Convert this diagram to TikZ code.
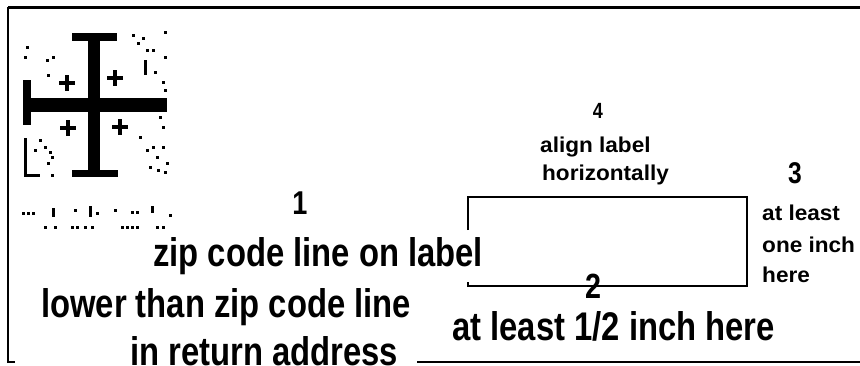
\documentclass[tikz,border=0pt]{standalone}
\usepackage{fontspec}
\setmainfont{Liberation Sans}
\newfontfamily\nfont{Liberation Sans}[FakeStretch=0.82]
\newfontfamily\wfont{Liberation Sans}[FakeStretch=1.05]
\begin{document}
\begin{tikzpicture}[x=1pt,y=-1pt,
  bigtxt/.style={font=\nfont\bfseries\fontsize{40}{40}\selectfont, inner sep=0pt, anchor=base west},
  smalltxt/.style={font=\wfont\bfseries\fontsize{21.5}{25}\selectfont, inner sep=0pt, anchor=base west},
  numtxt/.style={font=\nfont\bfseries, inner sep=0pt, anchor=base},
  frame/.style={draw=black, line width=#1},
  blk/.style={fill=black, draw=none}]
\useasboundingbox (0,0) rectangle (860,365);
% outer frame
\coordinate (tl) at (8,7);
\coordinate (tr) at (860,7);
\coordinate (bl) at (8,362);
\coordinate (bt) at (15,362);
\coordinate (bm) at (417,362);
\coordinate (br) at (860,362);
\draw[frame=3pt] (tl) -- (tr);
\draw[frame=1.5pt] (tl) -- (bl) -- (bt);
\draw[frame=2pt] (bm) -- (br);
% label box
\coordinate (b1) at (468,230);
\coordinate (b2) at (468,197);
\coordinate (b3) at (747,197);
\coordinate (b4) at (747,286);
\coordinate (b5) at (468,286);
\coordinate (b6) at (468,282);
\draw[frame=1.5pt] (b1) -- (b2) -- (b3) -- (b4) -- (b5) -- (b6);
% indicia
\fill[blk] (72,33) rectangle (117,41);
\fill[blk] (88,33) rectangle (100,176);
\fill[blk] (72,170) rectangle (118,177);
\fill[blk] (23,98) rectangle (167,112);
\fill[blk] (23,80) rectangle (31,125);
\foreach \cx/\cy in {67/83,115/78,68/128,120/127}{
  \fill[blk] (\cx-8,\cy-2) rectangle (\cx+8,\cy+2);
  \fill[blk] (\cx-2,\cy-8) rectangle (\cx+2,\cy+8);
}
\fill[blk] (24,138) rectangle (27,177);
\fill[blk] (24,174) rectangle (40,177);
\fill[blk] (144,60) rectangle (147,75);
\foreach \dx/\dy in {133/35,143/38,165/32,138/43,147/50,153/50,27/47,25/57,47/60,53/57,155/72,165/57,48/75,163/82,165/90,
  160/117,163/127,140/137,147/150,153/147,163/147,157/157,167/163,150/167,158/170,165/172,
  40/140,45/147,35/150,50/152,52/157,48/163,52/175,
  23/213,28/213,33/213,75/210,97/213,115/210,132/212,137/212,170/215,
  45/227,55/227,72/227,77/227,85/227,92/227,122/227,127/227,132/227,137/227,157/227,163/227}{
  \fill[blk] (\dx-1.5,\dy-1.5) rectangle (\dx+1.5,\dy+1.5);
}
\fill[blk] (52,208) rectangle (55,217);
\fill[blk] (89,206) rectangle (92,217);
\fill[blk] (151,206) rectangle (154,213);
% texts
\node[numtxt, font=\nfont\bfseries\fontsize{33}{33}\selectfont] (n1) at (300,214) {1};
\node[bigtxt] (t1) at (153,266) {zip code line on label};
\node[bigtxt] (t2) at (41,317) {lower than zip code line};
\node[bigtxt] (t3) at (130,365) {in return address};
\node[numtxt, font=\nfont\bfseries\fontsize{35}{35}\selectfont] (n2) at (593,298) {2};
\node[bigtxt] (t4) at (452,340) {at least 1/2 inch here};
\node[numtxt, font=\nfont\bfseries\fontsize{30}{30}\selectfont] (n3) at (795,183) {3};
\node[smalltxt] (t5) at (762,220) {at least};
\node[smalltxt] (t6) at (762,252) {one inch};
\node[smalltxt] (t7) at (762,282) {here};
\node[numtxt, font=\nfont\bfseries\fontsize{22}{22}\selectfont] (n4) at (598,118) {4};
\node[smalltxt] (t8) at (540,152) {align label};
\node[smalltxt] (t9) at (542,180) {horizontally};
\end{tikzpicture}
\end{document}
